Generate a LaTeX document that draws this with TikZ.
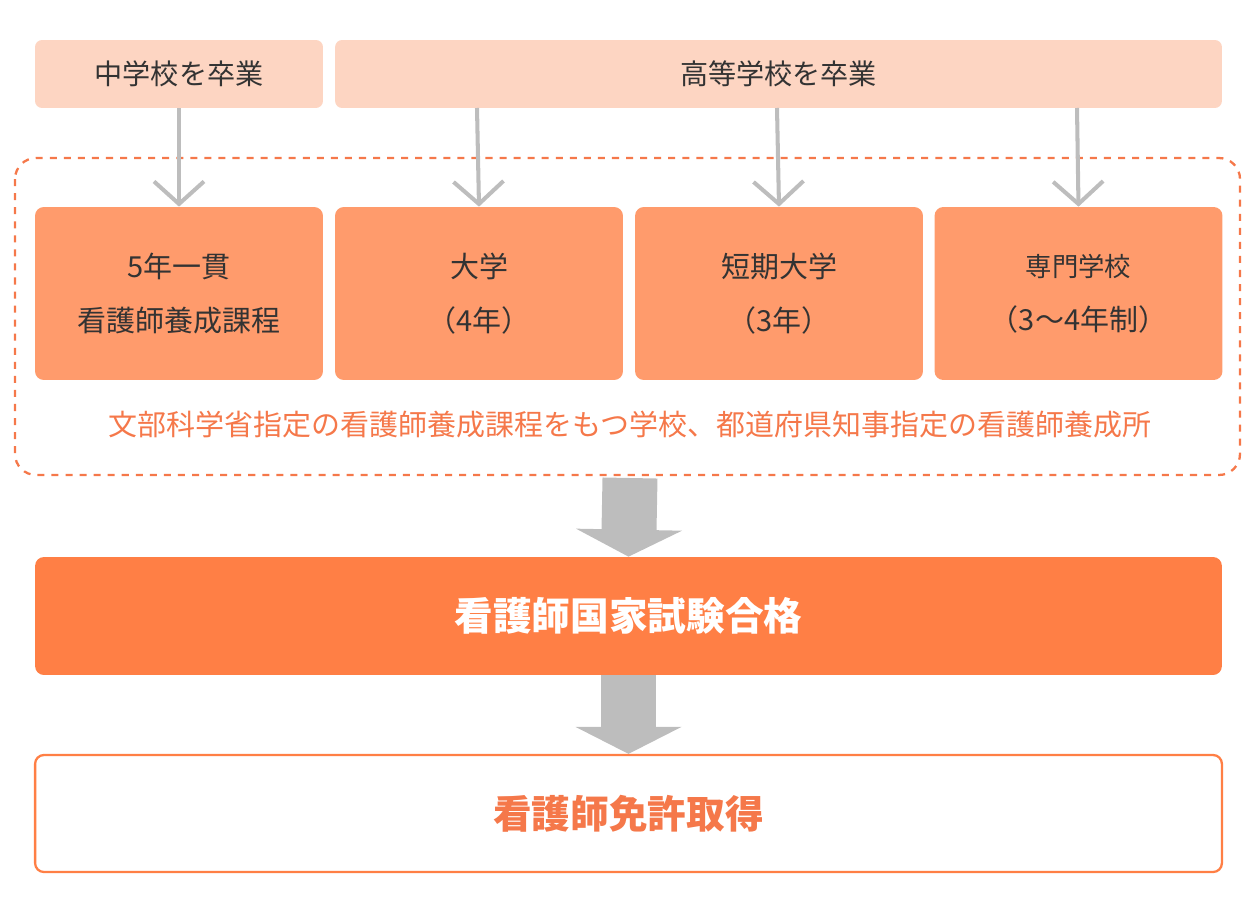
\documentclass[tikz,border=0pt]{standalone}
\usepackage{fontspec}
\setmainfont{Noto Sans CJK JP}
\usetikzlibrary{arrows.meta,positioning}
\definecolor{peach}{HTML}{FDD5C2}
\definecolor{salmon}{HTML}{FF9B6C}
\definecolor{deeporange}{HTML}{FF7F45}
\definecolor{textorange}{HTML}{F5784A}
\definecolor{arrowgray}{HTML}{BDBDBD}
\definecolor{darktext}{HTML}{333333}

\tikzset{
    grad/.style={draw=none, fill=peach, rounded corners=4pt, minimum height=1.36cm, text=darktext, font=\fontsize{16}{20}\selectfont},
    school/.style={draw=none, fill=salmon, rounded corners=5pt, minimum width=5.76cm, minimum height=3.46cm, align=center, text=darktext, font=\fontsize{16.5}{31}\selectfont},
    thinarrow/.style={draw=arrowgray, line width=2.3pt, -{Straight Barb[length=0.45cm, width=1cm, line width=2.3pt]}},
    blockarrow/.style={draw=arrowgray, line width=1.1cm, -{Triangle[length=0.54cm, width=2.1cm]}}
}

\begin{document}
\begin{tikzpicture}[x=0.02cm, y=-0.02cm]
    \useasboundingbox (0,0) rectangle (1260,916);

    % graduation
    \node[grad, minimum width=5.76cm] (jhs) at (179,74) {中学校を卒業};
    \node[grad, minimum width=17.74cm] (hs) at (778.5,74) {高等学校を卒業};

    % training institutions
    \draw[textorange, line width=1.3pt, dash pattern=on 4pt off 4pt, rounded corners=12pt] (15,158) rectangle (1240,475);
    \node[school] (course) at (179,293.5) {5年一貫\\看護師養成課程};
    \node[school] (univ) at (479,293.5) {大学\\（4年）};
    \node[school] (junior) at (779,293.5) {短期大学\\（3年）};
    \node[school] (senmon) at (1078.5,293.5) {\fontsize{15}{31}\selectfont 専門学校\\（3～4年制）};
    \node[text=textorange, font=\fontsize{16.5}{20}\selectfont] (note) at (630,425) {文部科学省指定の看護師養成課程をもつ学校、都道府県知事指定の看護師養成所};

    \coordinate (top) at (630,478);
    \coordinate (hs1) at (477,108);
    \coordinate (hs2) at (777,108);
    \coordinate (hs3) at (1077,108);

    \draw[thinarrow] (jhs.south) -- (course.north);
    \draw[thinarrow] (hs1) -- (univ.north);
    \draw[thinarrow] (hs2) -- (junior.north);
    \draw[thinarrow] (hs3) -- (senmon.north);

    % exam and licence
    \node[draw=none, fill=deeporange, rounded corners=5pt, minimum width=23.74cm, minimum height=2.36cm, text=white, font=\bfseries\fontsize{22}{26}\selectfont] (exam) at (628.5,616) {看護師国家試験合格};
    \node[draw=deeporange, line width=1.3pt, fill=white, rounded corners=5pt, minimum width=23.74cm, minimum height=2.34cm, text=textorange, font=\bfseries\fontsize{22}{26}\selectfont] (licence) at (628.5,813.5) {看護師免許取得};

    \draw[blockarrow] (top) -- (exam.north);
    \draw[blockarrow] (exam.south) -- (licence.north);
\end{tikzpicture}
\end{document}
